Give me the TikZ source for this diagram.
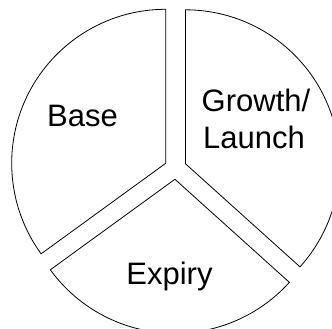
\documentclass[tikz,border=0pt]{standalone}
\usepackage{fontspec}
\setmainfont{Liberation Sans}
\usetikzlibrary{calc}
\begin{document}
\begin{tikzpicture}[x=1pt,y=1pt,
  slice/.style={draw=black,line width=0.8pt,fill=white,line join=miter},
  lbl/.style={font=\fontsize{31}{37}\selectfont,inner sep=0pt,align=center,text=black}]
\useasboundingbox (0,0) rectangle (332,-329);
\clip (0,0) rectangle (332,-329);
\fill[white] (0,0) rectangle (332,-329);
\coordinate (C) at (175.5,-168.3);
% Base slice
\draw[slice] ($(C)+(153:11)$) coordinate (bA) -- ++(90:154) arc[start angle=90,end angle=216,radius=154] -- cycle;
% Growth slice
\draw[slice] ($(C)+(24:11)$) coordinate (gA) -- ++(-42:154) arc[start angle=-42,end angle=90,radius=154] -- cycle;
% Expiry slice
\draw[slice] ($(C)+(267:11)$) coordinate (eA) -- ++(216:154) arc[start angle=216,end angle=318,radius=154] -- cycle;
\node[lbl,anchor=base] (base) at (82.5,-126) {Base};
\node[lbl,anchor=base] (growth1) at (256,-111) {Growth/};
\node[lbl,anchor=base] (growth2) at (254,-148) {Launch};
\node[lbl,anchor=base] (expiry) at (169.5,-284) {Expiry};
\end{tikzpicture}
\end{document}
